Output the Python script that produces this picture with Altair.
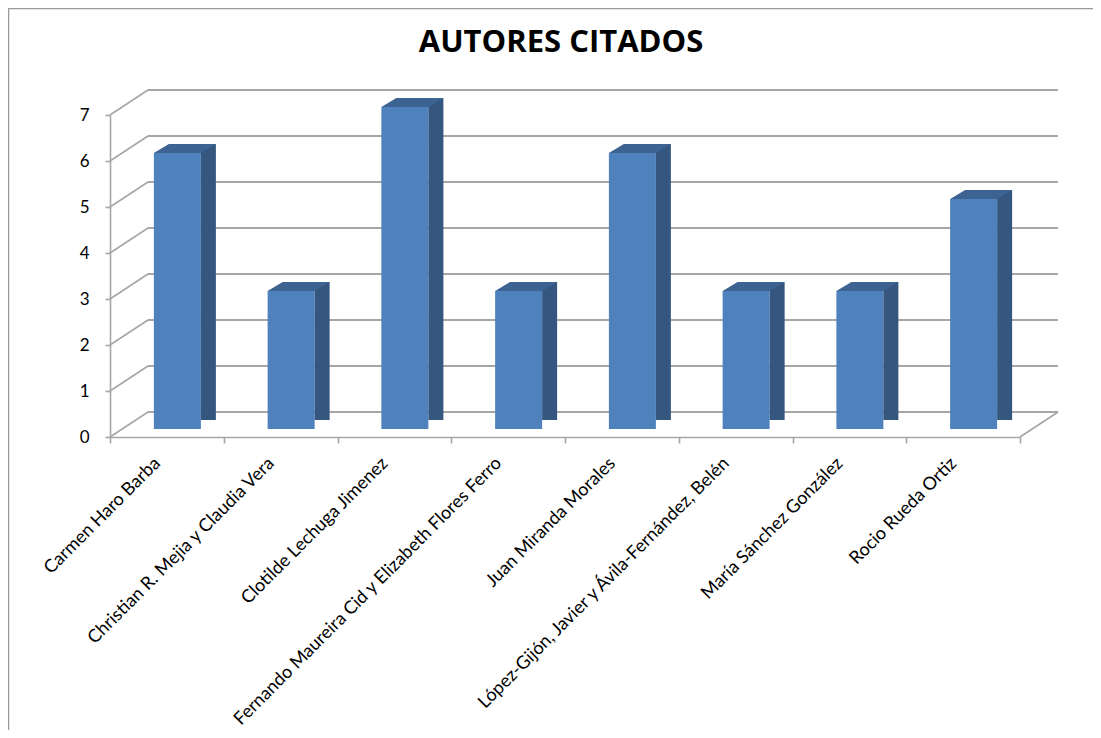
import altair as alt
import pandas as pd

authors = [
    "Carmen Haro Barba",
    "Christian R. Mejia y Claudia Vera",
    "Clotilde Lechuga Jimenez",
    "Fernando Maureira Cid y Elizabeth  Flores Ferro",
    "Juan Miranda Morales",
    "López-Gijón, Javier y Ávila-Fernández, Belén",
    "María Sánchez González",
    "Rocio Rueda Ortiz",
]
counts = [6, 3, 7, 3, 6, 3, 3, 5]
y_ticks = [0, 1, 2, 3, 4, 5, 6, 7]
title_text = ["AUTORES CITADOS"]

W, H = 910, 322
DX, DY = 38, -25  # depth of the 3D box

FONT = "Lato"
FRONT = "#4f81bd"
SIDE = "#34567f"
TOP = "#3c6392"
GRID = "#a6a6a6"

bars = pd.DataFrame({"autor": authors, "n": counts})
ticks = pd.DataFrame({"t": y_ticks})
ttl = pd.DataFrame({"title": title_text})

xs = alt.Scale(domain=authors, paddingInner=0, paddingOuter=0)
ys = alt.Scale(domain=[0, 7], nice=False, zero=True)

xaxis = alt.Axis(
    title=None,
    labelAngle=-45,
    labelFont=FONT,
    labelFontSize=18,
    labelColor="black",
    labelPadding=11,
    labelOffset=-16,
    labelLimit=600,
    domainColor=GRID,
    domainWidth=1.6,
    tickColor=GRID,
    tickWidth=1.6,
    tickSize=6,
    tickBand="extent",
    grid=False,
)
yaxis = alt.Axis(
    title=None,
    values=y_ticks,
    labelFont=FONT,
    labelFontSize=17,
    labelColor="black",
    labelPadding=16,
    domainColor=GRID,
    domainWidth=1.6,
    tickColor=GRID,
    tickWidth=1.6,
    tickSize=5,
    grid=False,
)

X = alt.X("autor:N", scale=xs, sort=authors, axis=xaxis)

# back wall gridlines
grid = alt.Chart(ticks).mark_rule(color=GRID, strokeWidth=1.8, yOffset=DY).encode(
    y=alt.Y("t:Q", scale=ys, axis=yaxis),
    x=alt.value(DX),
    x2=alt.value(W + DX),
)
# left wall connectors
diag = alt.Chart(ticks).mark_rule(color=GRID, strokeWidth=1.6, y2Offset=DY).encode(
    y=alt.Y("t:Q", scale=ys, axis=yaxis),
    y2="t:Q",
    x=alt.value(0),
    x2=alt.value(DX),
)
# right floor edge
floor_r = alt.Chart(ticks[ticks.t == 0]).mark_rule(color=GRID, strokeWidth=1.6, y2Offset=DY).encode(
    y=alt.Y("t:Q", scale=ys, axis=yaxis),
    y2="t:Q",
    x=alt.value(W),
    x2=alt.value(W + DX),
)

front = alt.Chart(bars).mark_bar(
    width=47, xOffset=10.5, yOffset=-8, y2Offset=-8, color=FRONT
).encode(
    x=X,
    y=alt.Y("n:Q", scale=ys, axis=yaxis),
)

side = alt.Chart(bars).mark_bar(
    width=15, xOffset=41.5, yOffset=-17, y2Offset=-8, color=SIDE
).encode(
    x=X,
    y=alt.Y("n:Q", scale=ys, axis=yaxis),
)

top = alt.Chart(bars).mark_point(
    shape="M-31,4.5L16,4.5L31,-4.5L-16,-4.5Z",
    size=4,
    filled=True,
    opacity=1,
    color=TOP,
    strokeWidth=0,
    xOffset=18,
    yOffset=-12.5,
).encode(
    x=X,
    y=alt.Y("n:Q", scale=ys, axis=yaxis),
)

mask = alt.Chart(bars).mark_point(
    shape="M0.3,0.6L16,0.6L16,-9.3Z",
    size=4,
    filled=True,
    opacity=1,
    color="white",
    strokeWidth=0,
    xOffset=34,
    yOffset=-8,
).encode(
    x=X,
    y=alt.Y(datum=0, scale=ys, axis=yaxis),
)

title = alt.Chart(ttl).mark_text(
    font="Open Sans", fontSize=31, fontWeight="bold", color="black",
    baseline="middle", align="center",
).encode(
    text="title:N",
    x=alt.value(451),
    y=alt.value(-72),
)

frame = alt.Chart(ttl).mark_rect(fill="transparent", stroke="#9a9a9a", strokeWidth=1.5).encode(
    x=alt.value(-101.5),
    x2=alt.value(W + 200),
    y=alt.value(-106.5),
    y2=alt.value(H + 400),
)

chart = (
    alt.layer(grid, diag, floor_r, front, side, top, mask, title, frame)
    .properties(
        width=W,
        height=H,
        background="white",
        autosize=alt.AutoSizeParams(type="none"),
        padding={"left": 102, "top": 107, "right": 73, "bottom": 293},
    )
    .configure_view(strokeWidth=0, stroke="transparent")
)

chart.save("out.html", embed_options={"renderer": "svg", "actions": False})
